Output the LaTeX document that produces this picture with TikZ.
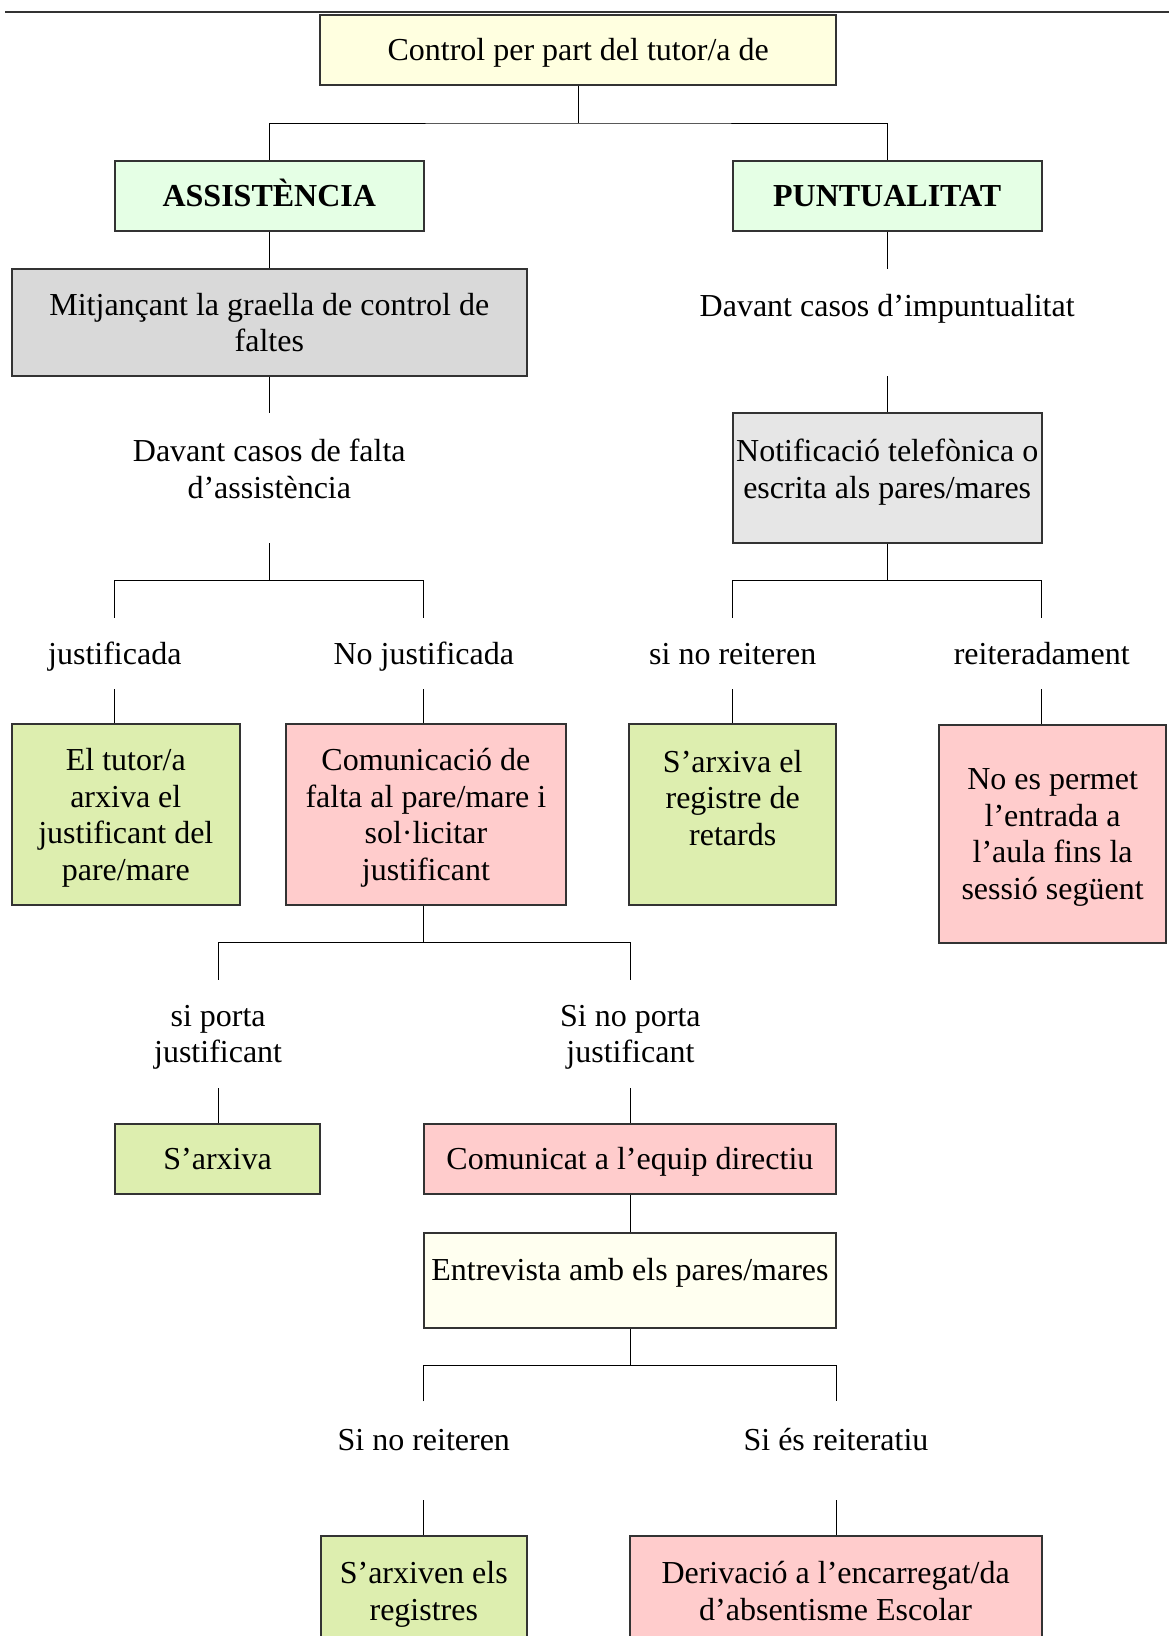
\documentclass[tikz,border=0pt]{standalone}
\usepackage{fontspec}
\setmainfont{Liberation Serif}
\usepackage{xcolor}
\definecolor{groc}{HTML}{FFFFE0}
\definecolor{marfil}{HTML}{FFFFF0}
\definecolor{verdclar}{HTML}{E5FFE5}
\definecolor{gris}{HTML}{D9D9D9}
\definecolor{grisclar}{HTML}{E6E6E6}
\definecolor{verd}{HTML}{DDEEAF}
\definecolor{rosa}{HTML}{FFCCCC}
\definecolor{vora}{HTML}{333333}
\newcommand{\puntal}{\rule[-3.46pt]{0pt}{17.72pt}}
\tikzstyle{box}=[rectangle, draw=vora, line width=1pt, align=flush center, inner sep=0pt, execute at begin node=\puntal, execute at end node=\puntal]
\tikzstyle{frame}=[rectangle, align=flush center, inner sep=0pt, execute at begin node=\puntal, execute at end node=\puntal]
\tikzstyle{txt}=[align=flush center, inner sep=0pt, execute at begin node=\puntal, execute at end node=\puntal]
\tikzset{amp/.style={minimum width=#1, text width=#1}}
\newcommand{\caixa}{\node[box]}

\begin{document}
\fontsize{16}{18.25}\selectfont
\begin{tikzpicture}[x=0.5pt,y=-0.5pt]
\useasboundingbox (0,0) rectangle (1169,1636);
\draw[vora, line width=1pt] (5,12.5) -- (1169,12.5);

% capcalera
\caixa[fill=groc, amp=257.8pt, minimum height=35pt] (top) at (578.2,49.6) {Control per part del tutor/a de};
\caixa[fill=verdclar, amp=154.5pt, minimum height=35pt, font=\bfseries] (assist) at (269.3,195.7) {ASSISTÈNCIA};
\caixa[fill=verdclar, amp=154.5pt, minimum height=35pt, font=\bfseries] (puntu) at (887.2,195.7) {PUNTUALITAT};

% assistencia
\caixa[fill=gris, amp=257.8pt, minimum height=53.2pt] (mitjan) at (269.3,322.5) {Mitjançant la graella de control de\\faltes};
\node[frame, amp=154.5pt, minimum height=64.7pt] (falta) at (269.3,478) {};
\node[txt, text width=154.5pt] (faltaT) at (269.3,469.2) {Davant casos de falta\\d’assistència};
\caixa[fill=verd, amp=114.3pt, minimum height=90.3pt] (tutor) at (125.8,814.7) {El tutor/a\\arxiva el\\justificant del\\pare/mare};
\caixa[fill=rosa, amp=139.8pt, minimum height=90.3pt] (comun) at (425.9,814.7) {Comunicació de\\falta al pare/mare i\\sol·licitar\\justificant};
\caixa[fill=verd, amp=102.8pt, minimum height=35pt] (sarxiva) at (217.6,1159.1) {S’arxiva};
\caixa[fill=rosa, amp=206.1pt, minimum height=35pt] (comDir) at (629.9,1159.1) {Comunicat a l’equip directiu};
\caixa[fill=marfil, amp=206.1pt, minimum height=47.5pt] (entrev) at (629.9,1280.2) {};
\node[txt, text width=206pt] (entrevT) at (629.9,1269.2) {Entrevista amb els pares/mares};
\caixa[fill=verd, amp=103.3pt, minimum height=55pt] (sarxiven) at (423.8,1591.4) {S’arxiven els\\registres};
\caixa[fill=rosa, amp=206.1pt, minimum height=55pt] (deriv) at (835.6,1591.4) {Derivació a l’encarregat/da\\d’absentisme Escolar};

% puntualitat
\node[frame, amp=154.5pt, minimum height=53.2pt] (impunt) at (887.2,322.5) {};
\node[txt, text width=200pt] (impuntT) at (887.2,305.8) {Davant casos d’impuntualitat};
\caixa[fill=grisclar, amp=154.5pt, minimum height=64.7pt] (notif) at (887.2,478) {};
\node[txt, text width=154.5pt] (notifT) at (887.2,469.2) {Notificació telefònica o\\escrita als pares/mares};
\caixa[fill=verd, amp=103.3pt, minimum height=90.3pt] (arxivaReg) at (732.7,814.7) {};
\node[txt, text width=103.3pt] (arxivaRegT) at (732.7,798) {S’arxiva el\\registre de\\retards};
\caixa[fill=rosa, amp=113.3pt, minimum height=109pt] (noPermet) at (1052.6,833.5) {No es permet\\l’entrada a\\l’aula fins la\\sessió següent};

% etiquetes
\foreach \nom/\x/\txt in {just/114.8/justificada, noJust/423.8/No justificada, siNoReit/732.7/si no reiteren, reiterad/1041.7/reiteradament}
	\node[frame, amp=100pt, minimum height=35.5pt] (\nom) at (\x,653.5) {\txt};
\node[frame, amp=100pt, minimum height=53.8pt] (porta) at (218.1,1033.8) {si porta\\justificant};
\node[frame, amp=100pt, minimum height=53.8pt] (noPorta) at (630.4,1033.8) {Si no porta\\justificant};
\node[frame, amp=100pt, minimum height=49.1pt] (noReit) at (423.8,1450.8) {};
\node[txt, text width=100pt] (noReitT) at (423.8,1439.3) {Si no reiteren};
\node[frame, amp=100pt, minimum height=49.1pt] (reit) at (836,1450.8) {};
\node[txt, text width=100pt] (reitT) at (836,1439.3) {Si és reiteratiu};

% connectors
\coordinate (f1) at (578.2,123);
\coordinate (f2) at (269.3,580.3);
\coordinate (f3) at (423.8,942.5);
\coordinate (f4) at (629.9,1365.3);
\coordinate (f5) at (887.2,580.3);
\draw (top) -- (f1);
\draw (assist) |- (f1) -| (puntu);
\draw (assist) -- (mitjan) (mitjan) -- (falta) (falta) -- (f2);
\draw (just) |- (f2) -| (noJust);
\draw (just) -- (just |- tutor.north) (noJust) -- (noJust |- comun.north);
\draw (comun.south -| f3) -- (f3);
\draw (porta) |- (f3) -| (noPorta);
\draw (porta) -- (porta |- sarxiva.north) (noPorta) -- (noPorta |- comDir.north);
\draw (comDir) -- (entrev) (entrev) -- (f4);
\draw (noReit) |- (f4) -| (reit);
\draw (noReit) -- (sarxiven) (reit) -- (reit |- deriv.north);
\draw (puntu) -- (impunt) (impunt) -- (notif) (notif) -- (f5);
\draw (siNoReit) |- (f5) -| (reiterad);
\draw (siNoReit) -- (arxivaReg) (reiterad) -- (reiterad |- noPermet.north);
\end{tikzpicture}
\end{document}
